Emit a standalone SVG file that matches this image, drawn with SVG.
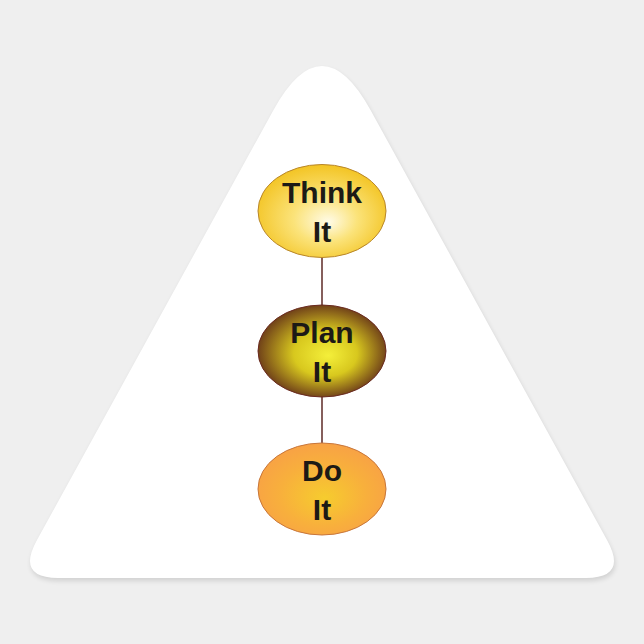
<svg xmlns="http://www.w3.org/2000/svg" width="644" height="644" viewBox="0 0 644 644">
<style>
.lbl{font-family:"Liberation Sans",Arial,sans-serif;font-weight:bold;font-size:30px;fill:#1c1a16;text-anchor:middle}
.conn{stroke:#5e2a26;stroke-width:1.5;fill:none}
</style>
<defs>
<radialGradient id="gThink" cx="0.5" cy="0.55" r="0.55" fx="0.55" fy="0.62">
<stop offset="0" stop-color="#fffbe8"/>
<stop offset="0.45" stop-color="#fbe37a"/>
<stop offset="1" stop-color="#f3c423"/>
</radialGradient>
<radialGradient id="gPlan" cx="0.5" cy="0.5" r="0.55" fx="0.55" fy="0.55">
<stop offset="0" stop-color="#f4ef3a"/>
<stop offset="0.45" stop-color="#d8c81e"/>
<stop offset="1" stop-color="#5e2a18"/>
</radialGradient>
<radialGradient id="gDo" cx="0.5" cy="0.55" r="0.55" fx="0.52" fy="0.6">
<stop offset="0" stop-color="#f6cc2e"/>
<stop offset="0.6" stop-color="#f8b03c"/>
<stop offset="1" stop-color="#f8a245"/>
</radialGradient>
<filter id="sh" x="-10%" y="-10%" width="120%" height="120%">
<feGaussianBlur stdDeviation="2.5"/>
</filter>
</defs>
<rect width="644" height="644" fill="#efefef"/>
<path d="M273.5 110 Q322 22 370.5 110 L607 540 Q628 578 586 578 L58 578 Q16 578 37 540 Z" fill="#000" opacity="0.12" transform="translate(1,3)" filter="url(#sh)"/>
<path d="M273.5 110 Q322 22 370.5 110 L607 540 Q628 578 586 578 L58 578 Q16 578 37 540 Z" fill="#ffffff"/>
<g id="connectors">
<line class="conn" x1="322" y1="257" x2="322" y2="305"/>
<line class="conn" x1="322" y1="397" x2="322" y2="443"/>
</g>
<g id="think">
<ellipse cx="322" cy="211" rx="64" ry="46.5" fill="url(#gThink)" stroke="#b8862a" stroke-width="1"/>
<text class="lbl" x="322" y="203">Think</text>
<text class="lbl" x="322" y="242">It</text>
</g>
<g id="plan">
<ellipse cx="322" cy="351" rx="64" ry="46" fill="url(#gPlan)" stroke="#6a2a20" stroke-width="1"/>
<text class="lbl" x="322" y="343">Plan</text>
<text class="lbl" x="322" y="382">It</text>
</g>
<g id="do">
<ellipse cx="322" cy="489" rx="64" ry="46" fill="url(#gDo)" stroke="#c8763a" stroke-width="1"/>
<text class="lbl" x="322" y="481">Do</text>
<text class="lbl" x="322" y="520">It</text>
</g>
</svg>
